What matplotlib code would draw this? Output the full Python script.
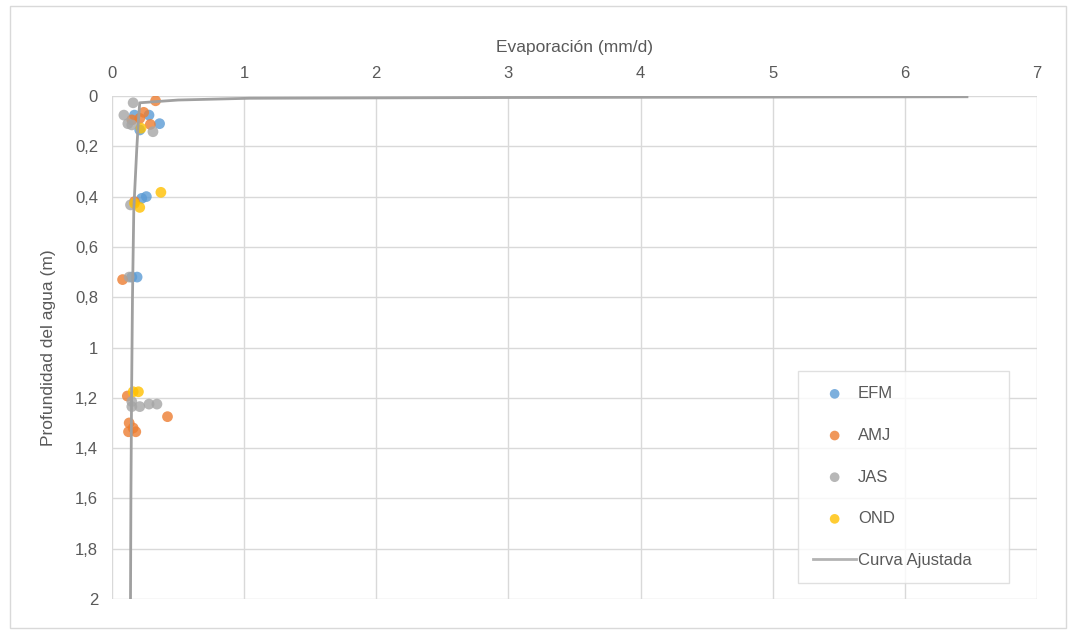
import matplotlib
matplotlib.use("Agg")
import matplotlib.pyplot as plt
from matplotlib.patches import Rectangle
from matplotlib.ticker import FuncFormatter

plt.rcParams['font.family'] = ['Liberation Sans', 'DejaVu Sans']

# ---- data (evaporation mm/d, depth m) ----
efm_x = [0.17, 0.28, 0.36, 0.21, 0.26, 0.225, 0.19, 0.15]
efm_y = [0.076, 0.076, 0.11, 0.135, 0.40, 0.407, 0.72, 0.72]

amj_x = [0.33, 0.24, 0.15, 0.21, 0.29, 0.17, 0.08, 0.116, 0.42, 0.13, 0.125, 0.18, 0.16]
amj_y = [0.019, 0.065, 0.095, 0.089, 0.113, 0.42, 0.73, 1.193, 1.275, 1.30, 1.335, 1.335, 1.32]

jas_x = [0.16, 0.09, 0.12, 0.15, 0.31, 0.14, 0.13, 0.15, 0.15, 0.21, 0.28, 0.34]
jas_y = [0.027, 0.076, 0.11, 0.115, 0.142, 0.433, 0.72, 1.215, 1.235, 1.235, 1.225, 1.225]

ond_x = [0.22, 0.37, 0.17, 0.21, 0.2, 0.16]
ond_y = [0.128, 0.383, 0.427, 0.443, 1.176, 1.176]

curve_x = [6.47, 3.0, 1.04, 0.5, 0.21, 0.20, 0.187, 0.165, 0.155, 0.148, 0.143, 0.14]
curve_y = [0.003, 0.006, 0.009, 0.016, 0.027, 0.095, 0.215, 0.45, 0.8, 1.2, 1.6, 2.0]

x_ticks = [0, 1, 2, 3, 4, 5, 6, 7]
y_ticks = [0, 0.2, 0.4, 0.6, 0.8, 1.0, 1.2, 1.4, 1.6, 1.8, 2.0]

colors = {'EFM': '#5B9BD5', 'AMJ': '#ED7D31', 'JAS': '#A5A5A5', 'OND': '#FFC000'}
text_c = '#595959'

fig = plt.figure(figsize=(10.75, 6.33), dpi=100)
fig.patches.append(Rectangle((10/1075, 1-628/633), 1056/1075, 622/633,
                             transform=fig.transFigure, fill=False,
                             edgecolor='#D9D9D9', linewidth=1.0))
ax = fig.add_axes([112/1075, 1-599/633, 925/1075, 503/633])

for name, xs, ys in [('EFM', efm_x, efm_y), ('AMJ', amj_x, amj_y),
                     ('JAS', jas_x, jas_y), ('OND', ond_x, ond_y)]:
    ax.scatter(xs, ys, s=60, color=colors[name], alpha=0.8, edgecolors='none',
               label=name, zorder=3)

ax.plot(curve_x, curve_y, color='#A0A0A0', linewidth=2.0, label='Curva Ajustada', zorder=4)

ax.set_xlim(0, 7)
ax.set_ylim(2, 0)
ax.set_xticks(x_ticks)
ax.set_yticks(y_ticks)
ax.xaxis.tick_top()
ax.xaxis.set_label_position('top')
ax.yaxis.set_major_formatter(FuncFormatter(lambda v, p: ('%g' % round(v, 1)).replace('.', ',')))
ax.tick_params(axis='x', length=0, labelsize=12, colors=text_c, pad=11)
ax.tick_params(axis='y', length=0, labelsize=12, colors=text_c, pad=10)
ax.grid(True, color='#D9D9D9', linewidth=1.0)
ax.set_axisbelow(True)
for s in ax.spines.values():
    s.set_visible(False)

ax.set_xlabel('Evaporación (mm/d)', fontsize=12.5, color=text_c, labelpad=10)
ax.set_ylabel('Profundidad del agua (m)', fontsize=12.5, color=text_c, labelpad=14)

leg = ax.legend(loc='lower left', bbox_to_anchor=(0.7416, 0.032, 0.2286, 0.4113),
                mode='expand', borderaxespad=0, fontsize=12, frameon=True, fancybox=False,
                edgecolor='#D9D9D9', labelspacing=1.6, handlelength=2.6,
                handletextpad=0.1, borderpad=0.9, markerscale=0.9)
leg.get_frame().set_linewidth(1.0)
for t in leg.get_texts():
    t.set_color(text_c)
for h in leg.legend_handles:
    try:
        h.set_alpha(0.8)
    except Exception:
        pass

fig.savefig('out.png', dpi=100)
